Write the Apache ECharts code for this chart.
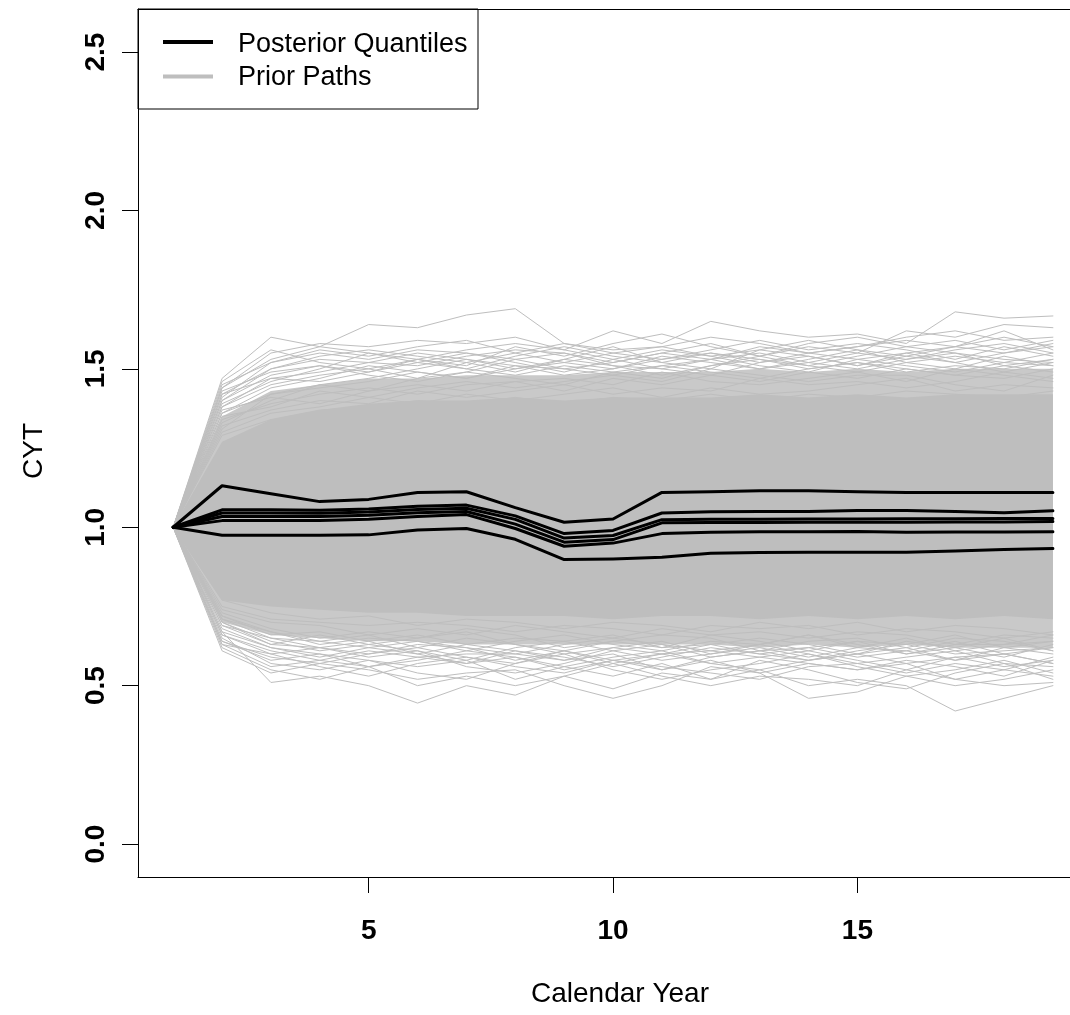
<!DOCTYPE html>
<html>
<head>
<meta charset="utf-8">
<title>CYT by Calendar Year</title>
<script src="https://cdn.jsdelivr.net/npm/echarts@6/dist/echarts.min.js"></script>
<style>
  html, body { margin: 0; padding: 0; background: #ffffff; }
  #chart { width: 1070px; height: 1015px; }
</style>
</head>
<body>
<div id="chart"></div>
<script>
// Calendar years on the x axis
const years = [1, 2, 3, 4, 5, 6, 7, 8, 9, 10, 11, 12, 13, 14, 15, 16, 17, 18, 19];

// Axis ticks
const xTicks = [5, 10, 15];
const yTicks = [0, 0.5, 1, 1.5, 2, 2.5];
const yTickLabels = ['0.0', '0.5', '1.0', '1.5', '2.0', '2.5'];

// Posterior quantile paths of CYT
const q95  = [1.000, 1.131, 1.106, 1.081, 1.088, 1.110, 1.112, 1.062, 1.016, 1.026, 1.110, 1.112, 1.115, 1.115, 1.112, 1.110, 1.110, 1.110, 1.110];
const q75  = [1.000, 1.055, 1.055, 1.054, 1.058, 1.066, 1.070, 1.036, 0.980, 0.990, 1.045, 1.049, 1.050, 1.050, 1.053, 1.053, 1.050, 1.046, 1.052];
const qMid = [1.000, 1.045, 1.045, 1.044, 1.048, 1.056, 1.060, 1.025, 0.966, 0.974, 1.024, 1.025, 1.025, 1.026, 1.026, 1.027, 1.027, 1.028, 1.028];
const q50  = [1.000, 1.034, 1.034, 1.034, 1.038, 1.046, 1.050, 1.010, 0.953, 0.961, 1.014, 1.015, 1.015, 1.016, 1.016, 1.016, 1.017, 1.017, 1.018];
const q25  = [1.000, 1.021, 1.021, 1.021, 1.025, 1.034, 1.040, 0.996, 0.940, 0.950, 0.980, 0.984, 0.986, 0.986, 0.987, 0.984, 0.985, 0.985, 0.986];
const q05  = [1.000, 0.975, 0.975, 0.975, 0.976, 0.991, 0.996, 0.962, 0.898, 0.900, 0.905, 0.918, 0.920, 0.921, 0.921, 0.921, 0.925, 0.930, 0.933];

// Prior paths: the dense core where the simulated paths overlap completely
const coreLow  = [1.00, 0.77, 0.75, 0.74, 0.73, 0.73, 0.72, 0.72, 0.72, 0.71, 0.72, 0.72, 0.71, 0.72, 0.71, 0.72, 0.71, 0.72, 0.71];
const coreHigh = [1.00, 1.27, 1.34, 1.37, 1.39, 1.40, 1.40, 1.41, 1.40, 1.41, 1.41, 1.41, 1.42, 1.41, 1.42, 1.41, 1.42, 1.42, 1.42];
// ...and the looser fringe where paths still crowd together
const fringeLow  = [1.00, 0.70, 0.66, 0.65, 0.64, 0.64, 0.63, 0.63, 0.63, 0.63, 0.63, 0.63, 0.62, 0.63, 0.62, 0.63, 0.62, 0.62, 0.62];
const fringeHigh = [1.00, 1.35, 1.43, 1.45, 1.47, 1.47, 1.48, 1.48, 1.48, 1.49, 1.49, 1.49, 1.50, 1.49, 1.50, 1.49, 1.50, 1.50, 1.50];

// Individual prior paths above the core
const priorUpper = [
  [1.00, 1.47, 1.60, 1.57, 1.64, 1.63, 1.67, 1.69, 1.58, 1.56, 1.57, 1.60, 1.58, 1.55, 1.57, 1.60, 1.62, 1.59, 1.60],
  [1.00, 1.44, 1.55, 1.58, 1.57, 1.59, 1.58, 1.60, 1.56, 1.62, 1.58, 1.65, 1.62, 1.60, 1.61, 1.58, 1.68, 1.66, 1.667],
  [1.00, 1.40, 1.50, 1.53, 1.52, 1.51, 1.54, 1.56, 1.55, 1.52, 1.55, 1.58, 1.54, 1.57, 1.55, 1.62, 1.60, 1.64, 1.63],
  [1.00, 1.38, 1.45, 1.48, 1.50, 1.47, 1.52, 1.49, 1.53, 1.57, 1.52, 1.50, 1.56, 1.54, 1.51, 1.55, 1.57, 1.62, 1.56],
  [1.00, 1.36, 1.42, 1.44, 1.46, 1.49, 1.47, 1.51, 1.48, 1.50, 1.54, 1.52, 1.50, 1.53, 1.56, 1.52, 1.54, 1.52, 1.55],
  [1.00, 1.34, 1.39, 1.42, 1.44, 1.42, 1.45, 1.46, 1.43, 1.47, 1.45, 1.48, 1.46, 1.49, 1.47, 1.50, 1.48, 1.47, 1.50],
  [1.00, 1.32, 1.37, 1.40, 1.39, 1.43, 1.41, 1.43, 1.45, 1.42, 1.44, 1.43, 1.47, 1.45, 1.46, 1.44, 1.46, 1.49, 1.47],
  [1.00, 1.42, 1.47, 1.46, 1.49, 1.53, 1.50, 1.48, 1.51, 1.49, 1.47, 1.51, 1.53, 1.50, 1.52, 1.49, 1.51, 1.50, 1.53],
  [1.00, 1.30, 1.36, 1.38, 1.41, 1.39, 1.42, 1.40, 1.42, 1.44, 1.41, 1.44, 1.42, 1.43, 1.45, 1.47, 1.43, 1.45, 1.44],
  [1.00, 1.45, 1.52, 1.55, 1.53, 1.56, 1.55, 1.52, 1.49, 1.53, 1.56, 1.54, 1.51, 1.49, 1.53, 1.55, 1.52, 1.55, 1.58],
  [1.00, 1.37, 1.41, 1.39, 1.43, 1.45, 1.43, 1.46, 1.47, 1.45, 1.49, 1.46, 1.45, 1.47, 1.49, 1.46, 1.50, 1.48, 1.46],
  [1.00, 1.29, 1.34, 1.37, 1.38, 1.40, 1.39, 1.41, 1.39, 1.41, 1.40, 1.42, 1.40, 1.42, 1.41, 1.43, 1.42, 1.41, 1.43],
  [1.00, 1.43, 1.49, 1.51, 1.48, 1.46, 1.49, 1.53, 1.55, 1.51, 1.50, 1.48, 1.52, 1.55, 1.53, 1.51, 1.49, 1.52, 1.51],
  [1.00, 1.35, 1.38, 1.43, 1.41, 1.44, 1.46, 1.44, 1.46, 1.48, 1.46, 1.50, 1.48, 1.46, 1.48, 1.48, 1.45, 1.43, 1.48],
  [1.00, 1.41, 1.52, 1.56, 1.54, 1.57, 1.59, 1.55, 1.52, 1.55, 1.53, 1.56, 1.59, 1.56, 1.58, 1.56, 1.53, 1.57, 1.54],
  [1.00, 1.39, 1.46, 1.50, 1.55, 1.52, 1.50, 1.54, 1.57, 1.54, 1.52, 1.55, 1.53, 1.51, 1.54, 1.57, 1.55, 1.53, 1.52],
  [1.00, 1.33, 1.40, 1.45, 1.47, 1.50, 1.53, 1.51, 1.50, 1.48, 1.51, 1.53, 1.55, 1.52, 1.50, 1.53, 1.56, 1.58, 1.55],
  [1.00, 1.46, 1.56, 1.52, 1.50, 1.53, 1.51, 1.57, 1.54, 1.58, 1.61, 1.57, 1.54, 1.58, 1.60, 1.57, 1.59, 1.56, 1.59],
  [1.00, 1.40, 1.48, 1.51, 1.49, 1.52, 1.55, 1.53, 1.50, 1.52, 1.55, 1.53, 1.50, 1.52, 1.55, 1.53, 1.55, 1.51, 1.53],
  [1.00, 1.36, 1.44, 1.47, 1.51, 1.49, 1.47, 1.50, 1.53, 1.51, 1.48, 1.51, 1.54, 1.51, 1.49, 1.52, 1.50, 1.54, 1.51],
  [1.00, 1.42, 1.50, 1.54, 1.56, 1.54, 1.52, 1.55, 1.58, 1.55, 1.57, 1.54, 1.56, 1.59, 1.56, 1.54, 1.57, 1.55, 1.57],
  [1.00, 1.31, 1.42, 1.45, 1.43, 1.47, 1.49, 1.47, 1.45, 1.49, 1.51, 1.49, 1.47, 1.50, 1.52, 1.50, 1.48, 1.51, 1.49],
  [1.00, 1.38, 1.47, 1.49, 1.52, 1.55, 1.53, 1.50, 1.52, 1.50, 1.53, 1.55, 1.52, 1.54, 1.51, 1.54, 1.52, 1.49, 1.52],
  [1.00, 1.44, 1.53, 1.57, 1.55, 1.53, 1.56, 1.58, 1.56, 1.53, 1.50, 1.53, 1.57, 1.55, 1.57, 1.59, 1.57, 1.60, 1.57]
];

// Individual prior paths below the core
const priorLower = [
  [1.00, 0.67, 0.51, 0.53, 0.50, 0.445, 0.50, 0.47, 0.53, 0.49, 0.54, 0.52, 0.55, 0.50, 0.52, 0.50, 0.42, 0.46, 0.50],
  [1.00, 0.61, 0.54, 0.57, 0.55, 0.52, 0.54, 0.55, 0.50, 0.46, 0.50, 0.56, 0.54, 0.46, 0.48, 0.53, 0.50, 0.52, 0.55],
  [1.00, 0.64, 0.58, 0.60, 0.58, 0.56, 0.58, 0.52, 0.56, 0.53, 0.57, 0.52, 0.58, 0.55, 0.51, 0.49, 0.54, 0.57, 0.56],
  [1.00, 0.66, 0.61, 0.58, 0.61, 0.59, 0.60, 0.60, 0.58, 0.60, 0.55, 0.58, 0.54, 0.57, 0.55, 0.58, 0.56, 0.53, 0.58],
  [1.00, 0.70, 0.63, 0.62, 0.60, 0.63, 0.62, 0.58, 0.61, 0.57, 0.60, 0.61, 0.59, 0.61, 0.58, 0.55, 0.59, 0.60, 0.57],
  [1.00, 0.69, 0.65, 0.64, 0.66, 0.62, 0.65, 0.63, 0.60, 0.62, 0.64, 0.60, 0.62, 0.59, 0.62, 0.61, 0.58, 0.62, 0.60],
  [1.00, 0.72, 0.66, 0.67, 0.64, 0.66, 0.63, 0.65, 0.64, 0.66, 0.62, 0.63, 0.65, 0.63, 0.60, 0.64, 0.62, 0.59, 0.63],
  [1.00, 0.73, 0.68, 0.65, 0.67, 0.65, 0.68, 0.66, 0.62, 0.64, 0.66, 0.65, 0.61, 0.64, 0.65, 0.62, 0.65, 0.64, 0.61],
  [1.00, 0.74, 0.70, 0.69, 0.66, 0.68, 0.66, 0.69, 0.67, 0.65, 0.68, 0.66, 0.67, 0.65, 0.67, 0.66, 0.63, 0.66, 0.65],
  [1.00, 0.75, 0.71, 0.70, 0.69, 0.70, 0.69, 0.67, 0.69, 0.68, 0.66, 0.69, 0.68, 0.69, 0.66, 0.68, 0.67, 0.65, 0.67],
  [1.00, 0.77, 0.73, 0.71, 0.72, 0.69, 0.71, 0.70, 0.68, 0.70, 0.69, 0.67, 0.70, 0.68, 0.70, 0.67, 0.69, 0.68, 0.66],
  [1.00, 0.68, 0.62, 0.59, 0.62, 0.60, 0.57, 0.61, 0.59, 0.56, 0.59, 0.62, 0.60, 0.58, 0.61, 0.63, 0.60, 0.61, 0.62],
  [1.00, 0.63, 0.60, 0.56, 0.53, 0.57, 0.59, 0.56, 0.54, 0.58, 0.56, 0.54, 0.52, 0.56, 0.57, 0.54, 0.57, 0.55, 0.53],
  [1.00, 0.71, 0.67, 0.63, 0.65, 0.64, 0.61, 0.64, 0.66, 0.63, 0.61, 0.64, 0.63, 0.66, 0.63, 0.60, 0.63, 0.63, 0.64],
  [1.00, 0.65, 0.57, 0.55, 0.58, 0.54, 0.52, 0.57, 0.60, 0.55, 0.52, 0.55, 0.57, 0.60, 0.56, 0.53, 0.55, 0.58, 0.54],
  [1.00, 0.67, 0.62, 0.60, 0.56, 0.58, 0.61, 0.59, 0.56, 0.59, 0.61, 0.57, 0.55, 0.58, 0.60, 0.57, 0.52, 0.55, 0.59],
  [1.00, 0.70, 0.64, 0.61, 0.63, 0.61, 0.56, 0.54, 0.57, 0.61, 0.58, 0.60, 0.63, 0.60, 0.57, 0.59, 0.61, 0.57, 0.52],
  [1.00, 0.62, 0.55, 0.52, 0.56, 0.50, 0.53, 0.50, 0.53, 0.57, 0.53, 0.50, 0.53, 0.52, 0.50, 0.55, 0.52, 0.50, 0.51],
  [1.00, 0.66, 0.60, 0.62, 0.59, 0.61, 0.58, 0.62, 0.64, 0.61, 0.63, 0.59, 0.61, 0.62, 0.59, 0.61, 0.64, 0.60, 0.62],
  [1.00, 0.71, 0.65, 0.62, 0.64, 0.60, 0.63, 0.61, 0.58, 0.62, 0.60, 0.63, 0.60, 0.62, 0.64, 0.60, 0.62, 0.65, 0.61],
  [1.00, 0.64, 0.59, 0.57, 0.60, 0.62, 0.59, 0.57, 0.61, 0.58, 0.55, 0.59, 0.61, 0.58, 0.60, 0.62, 0.58, 0.60, 0.57],
  [1.00, 0.69, 0.63, 0.66, 0.63, 0.65, 0.67, 0.63, 0.61, 0.64, 0.62, 0.66, 0.64, 0.61, 0.64, 0.63, 0.66, 0.62, 0.64],
  [1.00, 0.72, 0.67, 0.64, 0.62, 0.64, 0.62, 0.60, 0.63, 0.65, 0.63, 0.61, 0.63, 0.66, 0.62, 0.65, 0.61, 0.63, 0.66],
  [1.00, 0.63, 0.56, 0.58, 0.56, 0.59, 0.57, 0.59, 0.55, 0.58, 0.60, 0.57, 0.59, 0.57, 0.55, 0.57, 0.59, 0.56, 0.58]
];

const FONT = '"Liberation Sans", Arial, Helvetica, sans-serif';
const PRIOR_GREY = '#bebebe';
const FRINGE_GREY = '#c9c9c9';

function toPoints(vals) {
  return years.map((x, i) => [x, vals[i]]);
}

// A filled band between two per-year bounds, drawn as one polygon through the axis scales
function band(name, lo, hi, color, z) {
  return {
    name: name,
    type: 'custom',
    coordinateSystem: 'cartesian2d',
    silent: true,
    z: z,
    encode: { x: 0, y: [1, 2] },
    data: years.map((x, i) => [x, lo[i], hi[i]]),
    renderItem: function (params, api) {
      if (params.dataIndex !== 0) return null;
      const pts = [];
      for (let i = 0; i < years.length; i++) pts.push(api.coord([years[i], lo[i]]));
      for (let i = years.length - 1; i >= 0; i--) pts.push(api.coord([years[i], hi[i]]));
      return { type: 'polygon', shape: { points: pts }, style: { fill: color, stroke: null } };
    }
  };
}

function path(name, vals, color, width, z) {
  return {
    name: name,
    type: 'line',
    data: toPoints(vals),
    symbol: 'none',
    showSymbol: false,
    silent: true,
    z: z,
    lineStyle: { color: color, width: width, cap: 'round', join: 'round' },
    itemStyle: { color: color },
    emphasis: { disabled: true }
  };
}

const series = [];
series.push(band('Prior fringe', fringeLow, fringeHigh, FRINGE_GREY, 1));
series.push(band('Prior core', coreLow, coreHigh, PRIOR_GREY, 2));
priorUpper.concat(priorLower).forEach(p => series.push(path('Prior Paths', p, PRIOR_GREY, 1, 3)));
[q95, q75, qMid, q50, q25, q05].forEach(q => series.push(path('Posterior Quantiles', q, '#000000', 3, 5)));

const chart = echarts.init(document.getElementById('chart'), null, { renderer: 'canvas' });

// Plot region: left edge at x = 0.28, 48.87 px per year; the frame's right side runs past the page edge
const X_MIN = 0.28;
const X_MAX = 19.35;

chart.setOption({
  animation: false,
  backgroundColor: '#ffffff',
  grid: { left: 138, top: 9, width: 932, height: 868, show: false, containLabel: false },
  xAxis: [
    {
      type: 'value',
      position: 'bottom',
      min: X_MIN, max: X_MAX,
      axisLine: { show: true, onZero: false, lineStyle: { color: '#000000', width: 1 } },
      axisTick: { show: true, customValues: xTicks, length: 16, lineStyle: { color: '#000000', width: 1 } },
      axisLabel: {
        customValues: xTicks, margin: 40,
        color: '#000000', fontSize: 28, fontWeight: 'bold', fontFamily: FONT
      },
      splitLine: { show: false },
      name: 'Calendar Year',
      nameLocation: 'middle',
      nameGap: 103,
      nameTextStyle: { color: '#000000', fontSize: 28, fontFamily: FONT, padding: [0, 0, 0, 32] }
    },
    {
      type: 'value',
      position: 'top',
      min: X_MIN, max: X_MAX,
      axisLine: { show: true, onZero: false, lineStyle: { color: '#000000', width: 1 } },
      axisTick: { show: false },
      axisLabel: { show: false },
      splitLine: { show: false }
    }
  ],
  yAxis: {
    type: 'value',
    min: -0.104, max: 2.636,
    axisLine: { show: true, onZero: false, lineStyle: { color: '#000000', width: 1 } },
    axisTick: { show: true, customValues: yTicks, length: 16, lineStyle: { color: '#000000', width: 1 } },
    axisLabel: {
      customValues: yTicks, margin: 28, rotate: 90,
      formatter: v => yTickLabels[yTicks.indexOf(v)] ?? v.toFixed(1),
      color: '#000000', fontSize: 28, fontWeight: 'bold', fontFamily: FONT
    },
    splitLine: { show: false },
    name: 'CYT',
    nameLocation: 'middle',
    nameGap: 90,
    nameRotate: 90,
    nameTextStyle: { color: '#000000', fontSize: 28, fontFamily: FONT, padding: [0, 16, 0, 0] }
  },
  graphic: [
    {
      type: 'group', z: 100,
      children: [
        { type: 'rect', shape: { x: 138, y: 9, width: 340, height: 100 },
          style: { fill: '#ffffff', stroke: '#000000', lineWidth: 1 } },
        { type: 'line', shape: { x1: 163, y1: 42, x2: 213, y2: 42 },
          style: { stroke: '#000000', lineWidth: 4 } },
        { type: 'line', shape: { x1: 163, y1: 76.5, x2: 213, y2: 76.5 },
          style: { stroke: PRIOR_GREY, lineWidth: 4 } },
        { type: 'text', x: 238, y: 44.5,
          style: { text: 'Posterior Quantiles', fill: '#000000', font: '27px ' + FONT, verticalAlign: 'middle', align: 'left' } },
        { type: 'text', x: 238, y: 78,
          style: { text: 'Prior Paths', fill: '#000000', font: '27px ' + FONT, verticalAlign: 'middle', align: 'left' } }
      ]
    }
  ],
  series: series
});
</script>
</body>
</html>
